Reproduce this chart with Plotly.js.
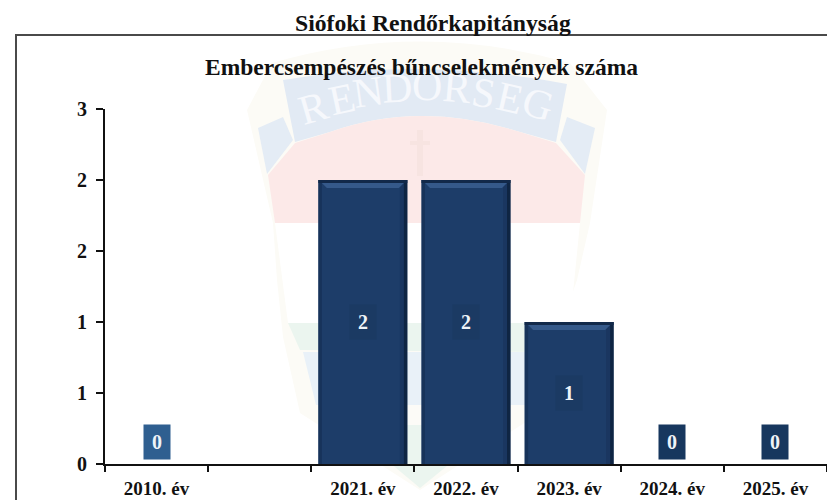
<!DOCTYPE html>
<html><head><meta charset="utf-8">
<script src="https://cdn.plot.ly/plotly-3.0.1.min.js"></script>
<style>html,body{margin:0;padding:0;background:#fff}#c{width:827px;height:500px}</style>
</head><body><div id="c"></div>
<script>
const categories = ["2010. év", " ", "2021. év", "2022. év", "2023. év", "2024. év", "2025. év"];
const values = [0, null, 2, 2, 1, 0, 0];
const yTickVals = [0, 0.5, 1, 1.5, 2, 2.5];
const yTickText = ["0", "1", "1", "2", "2", "3"];
const mainTitle = "Siófoki Rendőrkapitányság";
const subTitle = "Embercsempészés bűncselekmények száma";
const labelColors = ["#2f5f90", null, "#1b3a63", "#1b3a63", "#1b3a63", "#17375e", "#17375e"];
const crest = "RENDORSEG".split("");
const crestX = [313, 342, 368, 397, 427, 457, 483, 510, 538];
const crestY = [108, 99, 92, 88, 86, 88, 93, 98, 104];
const crestRot = [-16, -12, -8, -3, 1, 5, 9, 13, 17];

const W = 827, H = 500, L = 105, T = 109, B = 36;
const px = x => (x - L) / (W - L);
const py = y => (H - B - y) / (H - B - T);
function wm(points, fill) {
  const d = points.map((p, i) => (p.length === 4
    ? `Q${px(p[0])},${py(p[1])} ${px(p[2])},${py(p[3])}`
    : `${i ? 'L' : 'M'}${px(p[0])},${py(p[1])}`)).join(' ') + ' Z';
  return {type: 'path', xref: 'paper', yref: 'paper', layer: 'below', path: d, fillcolor: fill, line: {width: 0}};
}
const shapes = [
  {type: 'rect', xref: 'paper', yref: 'paper', layer: 'below', x0: px(16), x1: px(840), y0: py(520), y1: py(35),
   fillcolor: 'rgba(0,0,0,0)', line: {color: '#4a4a4a', width: 2}},
  wm([[247,110],[272,63],[420,20,570,63],[607,110],[590,223],[577,280],[557,337],[540,413],[420,490],[300,413],[283,337],[277,280],[273,223]], '#fcfbf6'),
  wm([[258,128],[283,117],[293,140],[267,174]], '#e4ecf5'),
  wm([[595,128],[567,117],[560,140],[585,174]], '#e4ecf5'),
  wm([[283,80],[420,56,567,84],[556,142],[520,132],[420,100,330,132],[295,142]], '#e2eaf4'),
  wm([[268,175],[295,143],[330,132],[420,100,520,132],[556,143],[585,175],[580,223],[275,223]], '#fce9e8'),
  wm([[275,223],[580,223],[570,323],[288,323]], '#ffffff'),
  wm([[288,323],[552,323],[540,352],[300,350]], '#ebf5ef'),
  wm([[303,352],[538,352],[525,405],[316,405]], '#e9f1f8'),
  wm([[316,405],[525,405],[500,425],[340,425]], '#fcfbf7'),
  wm([[345,425],[497,425],[420,488]], '#ebf5ef'),
  wm([[417,130],[423,130],[423,176],[417,176]], '#f7e4e1'),
  wm([[410,141],[430,141],[430,145],[410,145]], '#f7e4e1')
];
categories.forEach((c, i) => {
  const v = values[i];
  if (!v) return;
  const anchor = {xref: 'x', xsizemode: 'pixel', xanchor: c, layer: 'above', line: {width: 0}};
  shapes.push(Object.assign({}, anchor, {type: 'path', yref: 'y', fillcolor: '#1a3660',
    path: `M37,0 L41,0 L41,${v} L37,${v} Z`}));
  shapes.push(Object.assign({}, anchor, {type: 'path', yref: 'y', fillcolor: '#0f2543',
    path: `M41,0 L44.5,0 L44.5,${v} L41,${v} Z`}));
  shapes.push(Object.assign({}, anchor, {type: 'path', yref: 'y', fillcolor: '#17335a',
    path: `M-44.5,0 L-41,0 L-41,${v} L-44.5,${v} Z`}));
  shapes.push(Object.assign({}, anchor, {type: 'path', yref: 'y', ysizemode: 'pixel', yanchor: v, fillcolor: '#35598a',
    path: 'M-41,-3 L41,-3 L36,-8 L-36,-8 Z'}));
  shapes.push(Object.assign({}, anchor, {type: 'path', yref: 'y', ysizemode: 'pixel', yanchor: v, fillcolor: '#12294a',
    path: 'M-44.5,0 L44.5,0 L44.5,-3 L-44.5,-3 Z'}));
});

const annotations = [];
crest.forEach((ch, i) => annotations.push({
  text: ch, xref: 'paper', yref: 'paper', x: px(crestX[i]), y: py(crestY[i]), xanchor: 'center', yanchor: 'middle', showarrow: false,
  textangle: crestRot[i], font: {family: 'Liberation Serif', size: 42, color: '#f6f8fc'}
}));
annotations.push({text: mainTitle, xref: 'paper', yref: 'paper', x: px(432.5), y: py(23), xanchor: 'center', yanchor: 'middle', showarrow: false,
   font: {family: 'Liberation Serif', size: 23.7, color: '#111', weight: 'bold'}});
annotations.push({text: subTitle, xref: 'paper', yref: 'paper', x: px(421.5), y: py(67), xanchor: 'center', yanchor: 'middle', showarrow: false,
   font: {family: 'Liberation Serif', size: 23.5, color: '#111', weight: 'bold'}});
categories.forEach((c, i) => {
  if (values[i] === null) return;
  annotations.push({
    text: '<b>' + values[i] + '</b>', x: c, y: values[i] / 2, yshift: values[i] === 0 ? 22 : 0,
    showarrow: false, width: 24, height: 32, bgcolor: labelColors[i],
    font: {family: 'Liberation Serif', size: 20, color: '#eef3f8'}
  });
});

const trace = {type: 'bar', x: categories, y: values, width: 0.86,
  marker: {color: '#1d3d69', line: {width: 0}}, hoverinfo: 'skip'};
const layout = {
  width: W, height: H, autosize: false, showlegend: false,
  paper_bgcolor: '#fff', plot_bgcolor: 'rgba(0,0,0,0)',
  margin: {l: L, r: 0, t: T, b: B, pad: 0},
  xaxis: {type: 'category', categoryorder: 'array', categoryarray: categories, tickson: 'boundaries',
          range: [-0.5, 6.5], showline: true, linecolor: '#111', linewidth: 2, showgrid: false, zeroline: false,
          ticks: 'outside', ticklen: 6, tickwidth: 2, tickcolor: '#111', tickangle: 0, ticklabelstandoff: 6,
          tickfont: {family: 'Liberation Serif', size: 19, color: '#111', weight: 'bold'}},
  yaxis: {range: [0, 2.5], tickmode: 'array', tickvals: yTickVals, ticktext: yTickText,
          showline: true, linecolor: '#111', linewidth: 2, showgrid: false, zeroline: false,
          ticks: 'outside', ticklen: 7, tickwidth: 2, tickcolor: '#111', ticklabelstandoff: 5,
          tickfont: {family: 'Liberation Serif', size: 20, color: '#111', weight: 'bold'}},
  shapes, annotations
};
Plotly.newPlot('c', [trace], layout, {displayModeBar: false, staticPlot: true});
</script></body></html>
